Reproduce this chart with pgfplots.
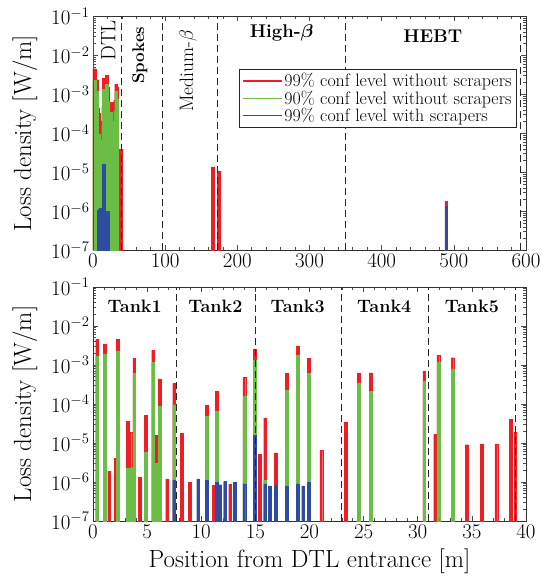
\RequirePackage{fix-cm}
\documentclass[border=0pt]{standalone}
\usepackage{amsmath}
\usepackage{pgfplots}
\pgfplotsset{compat=1.18}
\usepackage{pgfplotstable}
\definecolor{lossred}{RGB}{237,30,36}
\definecolor{lossgreen}{RGB}{106,190,69}
\definecolor{lossblue}{RGB}{46,76,160}

% 99% conf level without scrapers
\pgfplotstableread{
x y
0.37 4.6e-3
1.08 3.5e-3
1.48 1.86e-6
2.09 4.0e-6
2.30 4.6e-3
3.20 3.6e-5
3.45 1.9e-5
3.80 1.5e-3
4.30 1.36e-6
4.86 5.1e-5
5.54 2.4e-3
5.80 1.6e-5
6.15 4.4e-4
6.83 1.2e-6
7.48 3.4e-4
8.20 1.8e-5
8.95 1.0e-6
10.50 9.3e-5
11.15 8.3e-7
11.40 2.1e-4
12.20 1.05e-6
12.65 8.8e-7
13.97 4.9e-4
14.92 2.6e-3
15.40 5.2e-6
15.88 4.4e-5
16.86 5.6e-6
17.90 6.2e-4
18.90 3.1e-3
19.94 1.5e-3
21.09 6.6e-6
23.33 3.5e-5
24.52 6.3e-4
25.64 6.3e-4
30.59 7.1e-4
31.59 1.7e-5
31.90 1.8e-3
33.20 1.55e-3
34.50 9.1e-6
35.90 9.5e-6
37.26 9.5e-6
38.60 4.0e-5
39.00 1.9e-5
}\redtab

% 90% conf level without scrapers
\pgfplotstableread{
x y
0.37 1.7e-3
1.08 1.94e-3
2.30 2.3e-3
3.20 2.3e-6
3.45 2.3e-6
3.65 2.4e-6
3.80 6.1e-4
4.86 5.9e-6
5.54 1.2e-3
5.80 3.0e-6
6.15 8.9e-5
7.48 9.6e-5
10.50 4.8e-5
11.40 6.6e-5
13.97 1.6e-4
14.92 1.35e-3
15.88 1.1e-6
17.90 2.3e-4
18.90 1.8e-3
19.94 6.2e-4
24.52 3.5e-4
25.64 2.1e-4
30.59 3.8e-4
31.90 1.2e-3
33.20 7.8e-4
}\greentab

% 99% conf level with scrapers
\pgfplotstableread{
x y
7.48 1.1e-6
9.70 1.2e-6
10.50 1.1e-6
11.40 1.0e-6
11.75 8.6e-7
12.20 1.0e-6
13.10 1.0e-6
13.97 9.0e-7
14.92 1.6e-5
15.88 9.0e-7
16.30 8.0e-7
16.86 8.5e-7
17.90 8.0e-7
18.90 9.0e-7
19.40 8.0e-7
19.94 1.0e-6
}\bluetab

\tikzset{section/.style={dashed, dash pattern=on 7bp off 4bp, line width=0.8bp, black!85}}
\newcommand{\legfont}{\fontsize{18}{20.7}\selectfont}

\begin{document}
\begin{tikzpicture}
% upper panel: whole linac
\begin{axis}[at={(0bp,270.6bp)},
  width=433bp, height=234bp, scale only axis,
  ymode=log, ymin=1e-7, ymax=1e-1,
  ytick={1e-7,1e-6,1e-5,1e-4,1e-3,1e-2,1e-1},
  log origin y=infty,
  axis line style={black!80, line width=0.8bp},
  every tick/.style={black!70, line width=0.6bp},
  major tick length=5bp, minor tick length=3bp,
  tick label style={font=\fontsize{21}{25}\selectfont},
  label style={font=\fontsize{25}{29}\selectfont},
  ylabel={Loss density [W/m]},
  ylabel style={at={(axis description cs:-0.157,0.5)}, anchor=center, rotate=0},
  xmin=0, xmax=600, xtick={0,100,...,600}, minor x tick num=4,
  legend style={at={(0.979,0.775)}, anchor=north east, draw=black!85, line width=0.7bp,
    font=\legfont, row sep=-1.5bp, inner xsep=3bp, inner ysep=2bp},
  legend cell align=left,
]
\addplot[ybar, bar width=2.7bp, bar shift=0pt, fill=lossred, draw=lossred, line width=0.1bp,
  legend image code/.code={\draw[draw=lossred, line width=1.5bp] (0bp,0bp) -- (39bp,0bp);}] table {\redtab};
\addlegendentry{\legfont 99\% conf level without scrapers}
\addplot[ybar, bar width=2.7bp, bar shift=0pt, fill=lossred, draw=lossred, line width=0.1bp, forget plot] coordinates {(165.7,1.38e-5) (173.8,1.1e-5) (489.3,1.8e-6)};
\addplot[ybar, bar width=2.7bp, bar shift=0pt, fill=lossgreen, draw=lossgreen, line width=0.1bp,
  legend image code/.code={\draw[draw=lossgreen, line width=1.5bp] (0bp,0bp) -- (39bp,0bp);}] table {\greentab};
\addlegendentry{\legfont 90\% conf level without scrapers}
\addplot[ybar, bar width=2.7bp, bar shift=0pt, fill=lossblue, draw=lossblue, line width=0.1bp,
  legend image code/.code={\draw[draw=lossblue, line width=1.5bp] (0bp,0bp) -- (39bp,0bp);}] table {\bluetab};
\addlegendentry{\legfont 99\% conf level with scrapers}
\addplot[ybar, bar width=2.7bp, bar shift=0pt, fill=lossblue, draw=lossblue, line width=0.1bp, forget plot] coordinates {(489.3,1.35e-6)};
\addplot[ybar, bar width=0.8bp, bar shift=0pt, fill=lossblue, draw=none, forget plot] coordinates {(0.6,1)};

\draw[section] (axis cs:39.8,1e-7) -- (axis cs:39.8,1e-1);
\draw[section] (axis cs:96,1e-7) -- (axis cs:96,1e-1);
\draw[section] (axis cs:172.8,1e-7) -- (axis cs:172.8,1e-1);
\draw[section] (axis cs:350.2,1e-7) -- (axis cs:350.2,1e-1);
\draw[section] (axis cs:592.8,1e-7) -- (axis cs:592.8,1e-1);

\node[rotate=90, anchor=east, inner sep=0pt, font=\fontsize{21}{25}\selectfont] at (axis cs:21,8.2e-2) {DTL};
\node[rotate=90, anchor=east, inner sep=0pt, font=\fontsize{17}{20}\selectfont\bfseries] at (axis cs:65,5.5e-2) {Spokes};
\node[rotate=90, anchor=east, inner sep=0pt, font=\fontsize{19.5}{23}\selectfont] at (axis cs:132,4.6e-2) {Medium-$\beta$};
\node[font=\fontsize{18.5}{22}\selectfont\bfseries] at (axis cs:261.5,3.8e-2) {High-$\boldsymbol{\beta}$};
\node[font=\fontsize{18.5}{22}\selectfont\bfseries] at (axis cs:471,3.2e-2) {HEBT};
\end{axis}

% lower panel: DTL tanks
\begin{axis}[at={(0bp,0bp)},
  width=433bp, height=234bp, scale only axis,
  ymode=log, ymin=1e-7, ymax=1e-1,
  ytick={1e-7,1e-6,1e-5,1e-4,1e-3,1e-2,1e-1},
  log origin y=infty,
  axis line style={black!80, line width=0.8bp},
  every tick/.style={black!70, line width=0.6bp},
  major tick length=5bp, minor tick length=3bp,
  tick label style={font=\fontsize{21}{25}\selectfont},
  label style={font=\fontsize{25}{29}\selectfont},
  ylabel={Loss density [W/m]},
  ylabel style={at={(axis description cs:-0.157,0.5)}, anchor=center, rotate=0},
  xmin=0, xmax=40, xtick={0,5,...,40}, minor x tick num=4,
  xlabel={Position from DTL entrance [m]},
  xlabel style={at={(axis description cs:0.5,-0.198)}, anchor=base},
]
\addplot[ybar, bar width=2.7bp, bar shift=0pt, fill=lossred, draw=lossred, line width=0.1bp] table {\redtab};
\addplot[ybar, bar width=2.7bp, bar shift=0pt, fill=lossgreen, draw=lossgreen, line width=0.1bp] table {\greentab};
\addplot[ybar, bar width=2.7bp, bar shift=0pt, fill=lossblue, draw=lossblue, line width=0.1bp] table {\bluetab};

\draw[section] (axis cs:7.7,1e-7) -- (axis cs:7.7,1e-1);
\draw[section] (axis cs:15.0,1e-7) -- (axis cs:15.0,1e-1);
\draw[section] (axis cs:22.92,1e-7) -- (axis cs:22.92,1e-1);
\draw[section] (axis cs:31.03,1e-7) -- (axis cs:31.03,1e-1);
\draw[section] (axis cs:39.0,1e-7) -- (axis cs:39.0,1e-1);

\node[font=\fontsize{18}{22}\selectfont\bfseries] at (axis cs:3.85,3.16e-2) {Tank1};
\node[font=\fontsize{18}{22}\selectfont\bfseries] at (axis cs:11.3,3.16e-2) {Tank2};
\node[font=\fontsize{18}{22}\selectfont\bfseries] at (axis cs:18.9,3.16e-2) {Tank3};
\node[font=\fontsize{18}{22}\selectfont\bfseries] at (axis cs:26.9,3.16e-2) {Tank4};
\node[font=\fontsize{18}{22}\selectfont\bfseries] at (axis cs:35.0,3.16e-2) {Tank5};
\end{axis}
\pgfresetboundingbox
\useasboundingbox (-93bp,-57bp) rectangle (449bp,521bp);
\end{tikzpicture}
\end{document}
